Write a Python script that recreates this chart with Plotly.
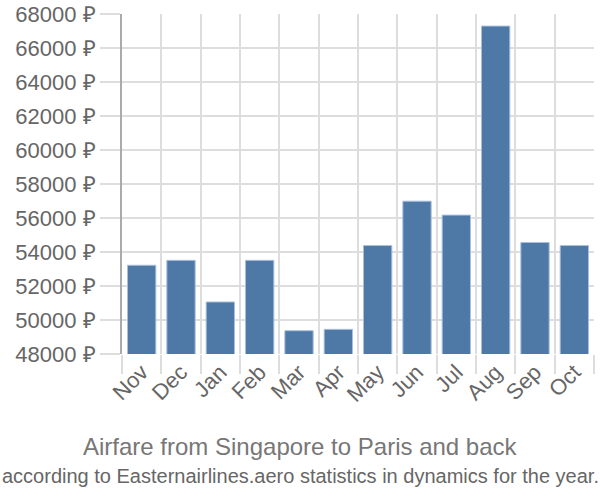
import plotly.graph_objects as go

months = ["Nov", "Dec", "Jan", "Feb", "Mar", "Apr", "May", "Jun", "Jul", "Aug", "Sep", "Oct"]
prices = [53220, 53510, 51060, 53510, 49370, 49450, 54380, 56990, 56170, 67290, 54560, 54380]
y_ticks = list(range(48000, 68001, 2000))
y_tick_text = [f"{v} ₽" for v in y_ticks]
title_text = "Airfare from Singapore to Paris and back"
subtitle_text = "according to Easternairlines.aero statistics in dynamics for the year."

FONT = "Liberation Sans, Arial, sans-serif"

fig = go.Figure(go.Bar(
    x=months, y=prices,
    marker=dict(color="#4e79a7", line=dict(color="#a9c0dc", width=1)),
    width=0.72,
))

fig.update_layout(
    width=600, height=500,
    margin=dict(l=122, r=6, t=14, b=146),
    plot_bgcolor="white", paper_bgcolor="white",
    font=dict(family=FONT, color="#666666", size=20),
    showlegend=False,
    xaxis=dict(
        automargin=False,
        tickson="boundaries", ticks="outside", ticklen=19, tickcolor="#dddddd", tickwidth=1.5,
        showgrid=True, gridcolor="#dddddd", gridwidth=1.5,
        tickangle=-45, tickfont=dict(family=FONT, size=22, color="#666666"),
        showline=False, range=[-0.5, 11.5],
    ),
    yaxis=dict(
        automargin=False,
        range=[48000, 68000], tickmode="array", tickvals=y_ticks, ticktext=y_tick_text,
        ticks="outside", ticklen=20, tickcolor="#dddddd", tickwidth=1.5,
        showgrid=True, gridcolor="#dddddd", gridwidth=1.5,
        showline=True, linecolor="#aaaaaa", linewidth=2,
        tickfont=dict(family=FONT, size=22, color="#666666"), zeroline=False,
    ),
    annotations=[
        dict(text=title_text, xref="paper", yref="paper", x=(300 - 122) / 472, y=-92 / 340,
             showarrow=False, xanchor="center", yanchor="middle",
             font=dict(family=FONT, size=24, color="#777777")),
        dict(text=subtitle_text, xref="paper", yref="paper", x=(300 - 122) / 472, y=-122 / 340,
             showarrow=False, xanchor="center", yanchor="middle",
             font=dict(family=FONT, size=20, color="#666666")),
    ],
)

fig.write_html("out.html")
